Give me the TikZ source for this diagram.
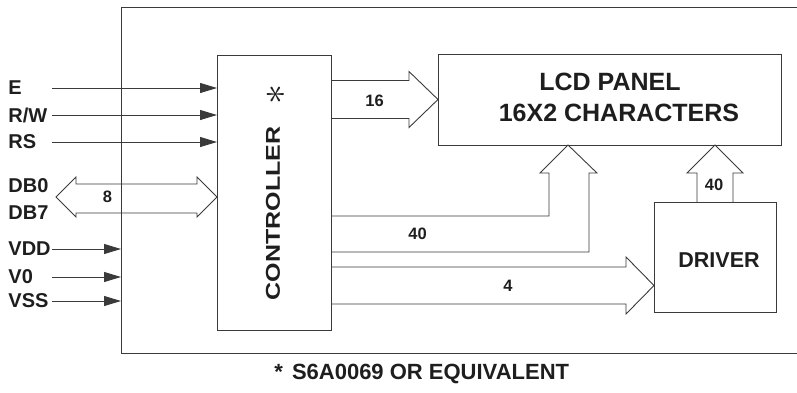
\documentclass[tikz,border=0pt]{standalone}
\usepackage{fix-cm}
\usepackage{fontspec}
\setmainfont{Liberation Sans}[BoldFont={Liberation Sans Bold}]
\usetikzlibrary{arrows.meta}
\definecolor{lcdline}{HTML}{3A3A3A}
\definecolor{lcdtext}{HTML}{1E1E1E}

\begin{document}
\begin{tikzpicture}[x=1pt,y=-1pt,line width=0.9pt,
  blk/.style={draw=lcdline,inner sep=0pt,outer sep=0pt},
  pinlbl/.style={anchor=west,inner sep=0pt,text=lcdtext,font=\fontsize{20}{20}\selectfont\bfseries},
  buslbl/.style={inner sep=0pt,text=lcdtext,font=\fontsize{16.5}{16.5}\selectfont\bfseries},
  bigtxt/.style={inner sep=0pt,text=lcdtext,font=\fontsize{25}{25}\selectfont\bfseries},
  sig/.style={draw=lcdline,-{Triangle[length=17pt,width=10pt]}},
  fat/.style={draw=lcdline,line join=miter}]
\useasboundingbox (0,0) rectangle (797,392); %Picture size in pixels
\draw[lcdline] (797,7) -- (121,7) -- (121,353) -- (797,353); %Module frame, open to the right
\coordinate (frm) at (121,7);
\node[blk,minimum width=114pt,minimum height=275pt] (ctrl) at (274,192.5) {}; %Controller
\node[bigtxt,rotate=90] (ctrltxt) at (273,213.5) {\scalebox{1}[0.8]{CONTROLLER}};
\node[bigtxt,rotate=90,font=\fontsize{40}{40}\selectfont] (ctrlast) at (276,94) {$\ast$};
\node[blk,minimum width=343pt,minimum height=91pt] (lcd) at (609.5,99.5) {}; %LCD panel
\node[bigtxt] (lcdtxta) at (610,82) {LCD PANEL};
\node[bigtxt] (lcdtxtb) at (619,112.5) {16X2 CHARACTERS};
\node[blk,minimum width=122pt,minimum height=110pt] (drv) at (715,257) {}; %Driver
\node[bigtxt,font=\fontsize{21.5}{21.5}\selectfont\bfseries] (drvtxt) at (719,260) {DRIVER};
%Control inputs
\node[pinlbl] (e) at (8,88) {E};
\node[pinlbl] (rw) at (8,115) {R/W};
\node[pinlbl] (rs) at (8,142) {RS};
\coordinate (es) at (52,88);
\coordinate (rws) at (52,115);
\coordinate (rss) at (52,142);
\draw[sig] (es) -- (es -| ctrl.west);
\draw[sig] (rws) -- (rws -| ctrl.west);
\draw[sig] (rss) -- (rss -| ctrl.west);
%Data bus
\node[pinlbl] (db0) at (8,186) {DB0};
\node[pinlbl] (db7) at (8,213) {DB7};
\coordinate (dbs) at (56,197);
\draw[fat] (dbs) -- (76,177) -- (76,184) -- (197,184) -- (197,177) -- (dbs -| ctrl.west) -- (197,217) -- (197,213) -- (76,213) -- (76,217) -- cycle; %8-bit two-way bus
\node[buslbl] (dbn) at (107.5,197) {8};
%Supply inputs
\node[pinlbl] (vdd) at (8,249) {VDD};
\node[pinlbl] (vo) at (8,277) {V0};
\node[pinlbl] (vss) at (8,301) {VSS};
\coordinate (vdds) at (52,249);
\coordinate (vos) at (52,277);
\coordinate (vsss) at (52,301);
\draw[sig] (vdds) -- (vdds -| frm);
\draw[sig] (vos) -- (vos -| frm);
\draw[sig] (vsss) -- (vsss -| frm);
%Buses out of the controller
\draw[fat] (ctrl.east |- 0,80.5) -- (409,80.5) -- (409,71.5) -- (lcd.west) -- (409,127.5) -- (409,118.5) -- (ctrl.east |- 0,118.5); %16 to panel
\node[buslbl] (n16) at (374.5,100.5) {16};
\draw[fat] (ctrl.east |- 0,216) -- (549,216) -- (549,173) -- (540,173) -- (568,0 |- lcd.south) -- (597,173) -- (589,173) -- (589,252) -- (ctrl.east |- 0,252); %40 to panel
\node[buslbl] (n40a) at (417.5,234) {40};
\draw[fat] (ctrl.east |- 0,267) -- (626,267) -- (626,257) -- (drv.west |- 0,285.5) -- (626,314) -- (626,304) -- (ctrl.east |- 0,304); %4 to driver
\node[buslbl] (n4) at (508,286) {4};
\draw[fat] (drv.north -| 697,0) -- (697,173) -- (687,173) -- (drv.north |- lcd.south) -- (743,173) -- (733,173) -- (drv.north -| 733,0); %40 from driver
\node[buslbl] (n40b) at (714,184.5) {40};
%Footnote
\node[anchor=west,inner sep=0pt,text=lcdtext,font=\fontsize{22}{22}\selectfont\bfseries] (note) at (274,374) {*\hspace{9pt}S6A0069 OR EQUIVALENT};
\end{tikzpicture}
\end{document}
